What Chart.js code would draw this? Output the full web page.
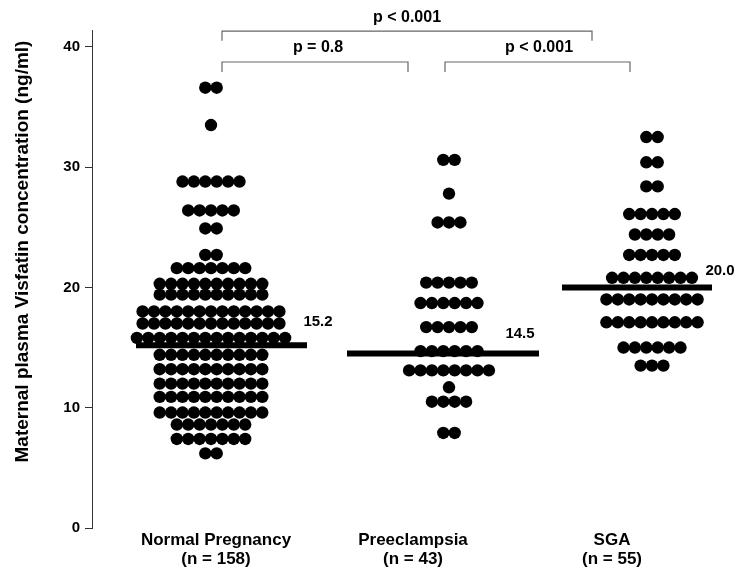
<!DOCTYPE html>
<html>
<head>
<meta charset="utf-8">
<script src="https://cdn.jsdelivr.net/npm/chart.js@4.4.1/dist/chart.umd.min.js"></script>
<style>
  html, body { margin: 0; padding: 0; background: #fff; }
</style>
</head>
<body>
<canvas id="chart" width="744" height="575"></canvas>
<script>
// groups and medians
var groups = ['Normal Pregnancy', 'Preeclampsia', 'SGA'];
var groupN = ['(n = 158)', '(n = 43)', '(n = 55)'];
var medians = [15.2, 14.5, 20.0];

// dot rows: value of each row and how many dots sit in it
var normalLevels = [36.6, 33.5, 28.8, 26.4, 24.9, 22.7, 21.6, 20.3, 19.4, 18.0, 17.0, 15.8, 14.4, 13.2, 12.0, 10.9, 9.6, 8.6, 7.4, 6.2];
var normalCounts = [2, 1, 6, 5, 2, 2, 7, 10, 10, 13, 13, 14, 10, 10, 10, 10, 10, 7, 7, 2];
var preLevels = [30.6, 27.8, 25.4, 20.4, 18.7, 16.7, 14.7, 13.1, 11.7, 10.5, 7.9];
var preCounts = [2, 1, 3, 5, 6, 5, 6, 8, 1, 4, 2];
var sgaLevels = [32.5, 30.4, 28.4, 26.1, 24.4, 22.7, 20.8, 19.0, 17.1, 15.0, 13.5];
var sgaCounts = [2, 2, 2, 5, 4, 5, 8, 9, 9, 6, 3];

// comparisons between groups
var pTexts = ['p = 0.8', 'p < 0.001', 'p < 0.001'];

// layout (x in axis units, y in ng/ml)
var yTicks = [0, 10, 20, 30, 40];
var labelPos = [0.62, 1.605, 2.6];
var dotCenter = [0.595, 1.785, 2.8];
var dotStep = 0.057;
var medianSpan = [[0.22, 1.075], [1.275, 2.235], [2.35, 3.1]];
var medianTextPos = [[1.13, 17.1], [2.14, 16.1], [3.14, 21.4]];
var brackets = [
  {a: 0.65, b: 1.58, top: 38.74, drop: 37.9, tx: 1.13, ty: 39.9},
  {a: 1.765, b: 2.69, top: 38.74, drop: 37.9, tx: 2.235, ty: 39.9},
  {a: 0.65, b: 2.5, top: 41.3, drop: 40.5, tx: 1.575, ty: 42.4}
];

var FONT = 'Arial, "Liberation Sans", sans-serif';

function dotRows(levels, counts, center) {
  var pts = [];
  levels.forEach(function (v, r) {
    var n = counts[r];
    for (var i = 0; i < n; i++) {
      pts.push({x: center + (i - (n - 1) / 2) * dotStep, y: v});
    }
  });
  return pts;
}

var datasets = [];

// median bars first so they sit on top of the dots
medians.forEach(function (m, i) {
  datasets.push({
    type: 'line',
    data: [{x: medianSpan[i][0], y: m}, {x: medianSpan[i][1], y: m}],
    borderColor: '#000',
    borderWidth: 6,
    borderCapStyle: 'butt',
    pointRadius: 0,
    clip: false
  });
});

brackets.forEach(function (br) {
  datasets.push({
    type: 'line',
    data: [{x: br.a, y: br.drop}, {x: br.a, y: br.top}, {x: br.b, y: br.top}, {x: br.b, y: br.drop}],
    borderColor: '#666',
    borderWidth: 1.2,
    pointRadius: 0,
    clip: false
  });
});

[[normalLevels, normalCounts], [preLevels, preCounts], [sgaLevels, sgaCounts]].forEach(function (g, i) {
  datasets.push({
    type: 'scatter',
    data: dotRows(g[0], g[1], dotCenter[i]),
    backgroundColor: '#000',
    borderWidth: 0,
    pointRadius: 6.2,
    pointHoverRadius: 6.2,
    clip: false
  });
});

var textPlugin = {
  id: 'textPlugin',
  afterDatasetsDraw: function (chart) {
    var ctx = chart.ctx, xs = chart.scales.x, ys = chart.scales.y;
    ctx.save();
    ctx.fillStyle = '#000';
    ctx.textAlign = 'center';
    ctx.textBaseline = 'middle';
    ctx.font = 'bold 15px ' + FONT;
    medians.forEach(function (m, i) {
      ctx.fillText(m.toFixed(1), xs.getPixelForValue(medianTextPos[i][0]), ys.getPixelForValue(medianTextPos[i][1]));
    });
    ctx.font = 'bold 16px ' + FONT;
    brackets.forEach(function (br, i) {
      ctx.fillText(pTexts[i], xs.getPixelForValue(br.tx), ys.getPixelForValue(br.ty));
    });
    ctx.restore();
  }
};

new Chart(document.getElementById('chart'), {
  type: 'scatter',
  data: {datasets: datasets},
  options: {
    responsive: false,
    animation: false,
    devicePixelRatio: 1,
    layout: {padding: {top: 30, right: 12, left: 4, bottom: 0}},
    plugins: {legend: {display: false}, tooltip: {enabled: false}},
    scales: {
      x: {
        type: 'linear',
        min: 0,
        max: 3.2,
        afterBuildTicks: function (s) {
          s.ticks = labelPos.map(function (v) { return {value: v}; });
        },
        afterFit: function (s) { s.height = 47; },
        grid: {display: false, drawTicks: false},
        border: {display: false},
        ticks: {
          autoSkip: false,
          maxRotation: 0,
          padding: 3,
          color: '#000',
          font: {family: FONT, size: 17, weight: 'bold', lineHeight: 1.1},
          callback: function (v, i) { return [groups[i], groupN[i]]; }
        }
      },
      y: {
        min: 0,
        max: 41.4,
        afterBuildTicks: function (s) {
          s.ticks = yTicks.map(function (v) { return {value: v}; });
        },
        afterFit: function (s) { s.width = 88; },
        grid: {drawOnChartArea: false, drawTicks: true, tickLength: 7, color: '#333'},
        border: {display: true, color: '#333', width: 1},
        ticks: {
          padding: 5,
          color: '#000',
          font: {family: FONT, size: 15, weight: 'bold'}
        },
        title: {
          display: true,
          align: 'end',
          text: 'Maternal plasma Visfatin concentration (ng/ml)\u00a0\u00a0',
          color: '#000',
          font: {family: FONT, size: 19, weight: 'bold'},
          padding: {top: 7, bottom: 4}
        }
      }
    }
  },
  plugins: [textPlugin]
});
</script>
</body>
</html>
